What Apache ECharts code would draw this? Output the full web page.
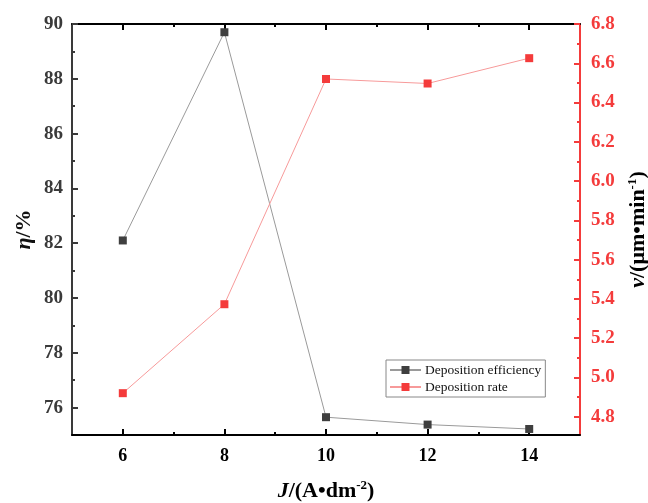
<!DOCTYPE html>
<html><head><meta charset="utf-8">
<script src="https://cdn.jsdelivr.net/npm/echarts@6/dist/echarts.min.js"></script>
<style>html,body{margin:0;padding:0;background:#fff}#c{width:648px;height:503px}</style>
</head><body><div id="c"></div>
<script>
const currentDensity = [6, 8, 10, 12, 14];
const efficiency = [82.1, 89.7, 75.65, 75.38, 75.22];
const depositionRate = [4.92, 5.373, 6.52, 6.497, 6.626];
const xMajorTicks = [6, 8, 10, 12, 14];
const xMinorTicks = [7, 9, 11, 13];
const leftMajorTicks = [76, 78, 80, 82, 84, 86, 88, 90];
const leftMinorTicks = [77, 79, 81, 83, 85, 87, 89];
const rightMajorTicks = [4.8, 5.0, 5.2, 5.4, 5.6, 5.8, 6.0, 6.2, 6.4, 6.6, 6.8];
const rightMinorTicks = [4.9, 5.1, 5.3, 5.5, 5.7, 5.9, 6.1, 6.3, 6.5, 6.7];
const seriesNames = ['Deposition efficiency', 'Deposition rate'];

const FONT = '"Liberation Serif", "Times New Roman", serif';
const RED = '#F43B3B';
const DARK = '#3a3a3a';

const chart = echarts.init(document.getElementById('c'));
const xBase = {type: 'value', min: 5, max: 15, gridIndex: 0, splitLine: {show: false}};
const yLeftBase = {type: 'value', min: 75, max: 90, splitLine: {show: false}};
const yRightBase = {type: 'value', min: 4.707, max: 6.8, splitLine: {show: false}};

chart.setOption({
  animation: false,
  grid: {left: 72, right: 68, top: 24, bottom: 68, containLabel: false, outerBoundsMode: 'none'},
  legend: {
    orient: 'vertical', left: 386, top: 360, width: 158,
    data: seriesNames,
    itemWidth: 31, itemHeight: 10, itemGap: 3,
    borderColor: '#888', borderWidth: 1, padding: [3, 4, 3, 3],
    textStyle: {fontFamily: FONT, fontSize: 13.5, color: '#111', padding: [0, 0, 0, -1]}
  },
  xAxis: [
    Object.assign({}, xBase, {
      position: 'bottom',
      axisLine: {lineStyle: {color: '#000', width: 2}},
      axisTick: {inside: true, length: 6, lineStyle: {width: 2, color: '#000'}, customValues: xMajorTicks},
      axisLabel: {customValues: xMajorTicks, margin: 12, fontFamily: FONT, fontWeight: 'bold', fontSize: 18, color: '#000'},
      name: '{i|J}{b|/(A•dm}{s|-2}{b|)}',
      nameLocation: 'middle', nameGap: 44,
      nameTextStyle: {
        rich: {
          i: {fontFamily: FONT, fontSize: 22, fontWeight: 'bold', fontStyle: 'italic', color: '#000'},
          b: {fontFamily: FONT, fontSize: 22, fontWeight: 'bold', color: '#000'},
          s: {fontFamily: FONT, fontSize: 13, fontWeight: 'bold', color: '#000', padding: [0, 0, 12, 0]}
        }
      }
    }),
    Object.assign({}, xBase, {
      position: 'bottom',
      axisLine: {show: false},
      axisTick: {inside: true, length: 3, lineStyle: {width: 2, color: '#000'}, customValues: xMinorTicks},
      axisLabel: {show: false}
    }),
    Object.assign({}, xBase, {
      position: 'top',
      axisLine: {lineStyle: {color: '#000', width: 2}},
      axisTick: {inside: true, length: 6, lineStyle: {width: 2, color: '#000'}, customValues: xMajorTicks},
      axisLabel: {show: false}
    }),
    Object.assign({}, xBase, {
      position: 'top',
      axisLine: {show: false},
      axisTick: {inside: true, length: 3, lineStyle: {width: 2, color: '#000'}, customValues: xMinorTicks},
      axisLabel: {show: false}
    })
  ],
  yAxis: [
    Object.assign({}, yLeftBase, {
      position: 'left',
      axisLine: {show: true, lineStyle: {color: DARK, width: 2}},
      axisTick: {show: true, inside: true, length: 6, lineStyle: {width: 2, color: DARK}, customValues: leftMajorTicks},
      axisLabel: {customValues: leftMajorTicks, margin: 9, fontFamily: FONT, fontWeight: 'bold', fontSize: 19, color: DARK},
      name: '{i|η}{b|/%}',
      nameLocation: 'middle', nameGap: 37, nameMoveOverlap: false,
      nameTextStyle: {
        rich: {
          i: {fontFamily: FONT, fontSize: 22, fontWeight: 'bold', fontStyle: 'italic', color: '#111'},
          b: {fontFamily: FONT, fontSize: 22, fontWeight: 'bold', color: '#111'}
        }
      }
    }),
    Object.assign({}, yLeftBase, {
      position: 'left',
      axisLine: {show: false},
      axisTick: {show: true, inside: true, length: 3, lineStyle: {width: 2, color: DARK}, customValues: leftMinorTicks},
      axisLabel: {show: false}
    }),
    Object.assign({}, yRightBase, {
      position: 'right',
      axisLine: {show: true, lineStyle: {color: RED, width: 2}},
      axisTick: {show: true, inside: true, length: 6, lineStyle: {width: 2, color: RED}, customValues: rightMajorTicks},
      axisLabel: {customValues: rightMajorTicks, margin: 11, fontFamily: FONT, fontWeight: 'bold', fontSize: 19, color: RED,
        formatter: v => v.toFixed(1)},
      name: '{i|v}{b|/(μm•min}{s|-1}{b|)}',
      nameLocation: 'middle', nameGap: 45,
      nameTextStyle: {
        rich: {
          i: {fontFamily: FONT, fontSize: 22, fontWeight: 'bold', fontStyle: 'italic', color: '#000'},
          b: {fontFamily: FONT, fontSize: 22, fontWeight: 'bold', color: '#000'},
          s: {fontFamily: FONT, fontSize: 13, fontWeight: 'bold', color: '#000', padding: [0, 0, 12, 0]}
        }
      }
    }),
    Object.assign({}, yRightBase, {
      position: 'right',
      axisLine: {show: false},
      axisTick: {show: true, inside: true, length: 3, lineStyle: {width: 2, color: RED}, customValues: rightMinorTicks},
      axisLabel: {show: false}
    })
  ],
  series: [
    {
      name: seriesNames[0], type: 'line', xAxisIndex: 0, yAxisIndex: 0,
      data: currentDensity.map((x, i) => [x, efficiency[i]]),
      symbol: 'rect', symbolSize: 8,
      itemStyle: {color: '#3f3f3f'},
      lineStyle: {color: '#9a9a9a', width: 1}
    },
    {
      name: seriesNames[1], type: 'line', xAxisIndex: 0, yAxisIndex: 2,
      data: currentDensity.map((x, i) => [x, depositionRate[i]]),
      symbol: 'rect', symbolSize: 8,
      itemStyle: {color: RED},
      lineStyle: {color: '#F79A9A', width: 1}
    }
  ]
});
</script></body></html>
